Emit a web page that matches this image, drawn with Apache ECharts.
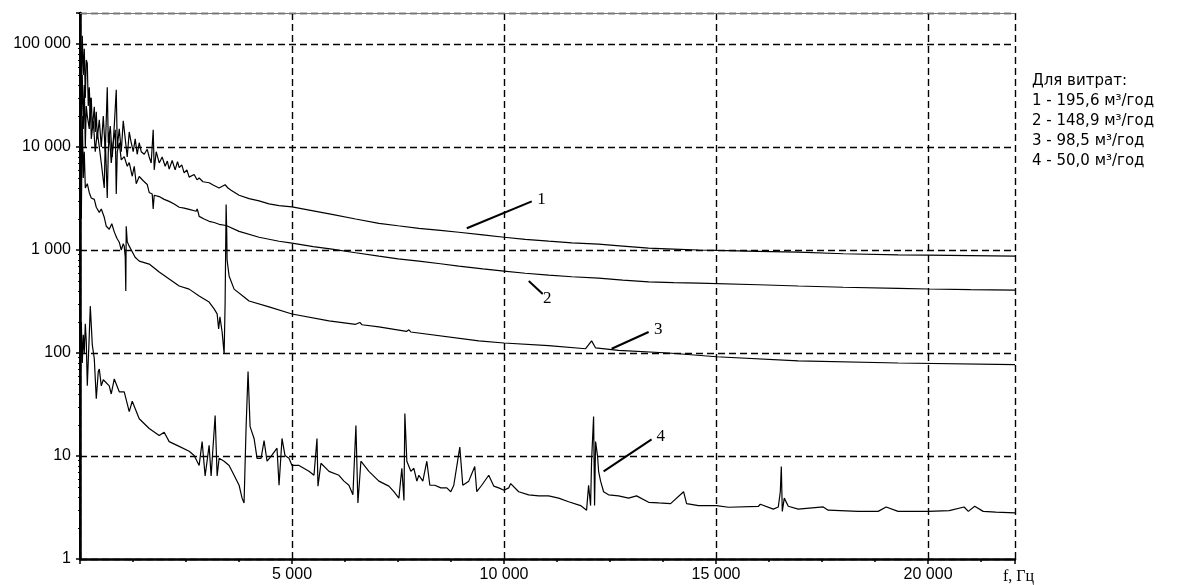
<!DOCTYPE html>
<html>
<head>
<meta charset="utf-8">
<script src="https://cdn.jsdelivr.net/npm/echarts@6/dist/echarts.min.js"></script>
<style>
    html, body { margin: 0; background: #fff; }
    #chart { width: 1178px; height: 585px; }
</style>
</head>
<body>
<div id="chart"></div>
<script>
    // спектри шуму для різних витрат: [частота, Гц, амплітуда]
    const spectrum1 = [
        [0, 60000], [7, 130000], [31, 40000], [54, 120000], [78, 50000], [101, 90000], [125, 30000],
        [148, 70000], [172, 65000], [195, 25000], [219, 38000], [243, 20000], [266, 30000], [290, 15000],
        [337, 24600], [360, 14000], [384, 22000], [407, 12000], [455, 18400], [502, 10000], [549, 20000],
        [596, 9000], [643, 38000], [667, 11000], [714, 16000], [761, 8000], [808, 16000], [855, 36000],
        [879, 10000], [926, 15000], [973, 9000], [1020, 18000], [1067, 12000], [1114, 8000], [1161, 14000],
        [1208, 11000], [1255, 9000], [1302, 12000], [1349, 8500], [1397, 11000], [1444, 9000], [1514, 8500],
        [1585, 9500], [1632, 8000], [1679, 7000], [1726, 14700], [1750, 6000], [1797, 9000], [1868, 7000],
        [1938, 8000], [2009, 6500], [2060, 7300], [2103, 6100], [2174, 7400], [2244, 6000], [2300, 7200],
        [2339, 6300], [2400, 6700], [2456, 5600], [2520, 6000], [2574, 5100], [2692, 5400], [2760, 4800],
        [2810, 5000], [2900, 4600], [3045, 4500], [3150, 4250], [3281, 4000], [3422, 4300], [3490, 4000],
        [3563, 3800], [3752, 3400], [3987, 3150], [4223, 3000], [4458, 2800], [4694, 2700], [5000, 2620],
        [5500, 2400], [5942, 2220], [6500, 2000], [7049, 1816], [7500, 1720], [7991, 1625], [8500, 1550],
        [8933, 1487], [9500, 1400], [10000, 1330], [10500, 1270], [11052, 1217], [11600, 1175],
        [12230, 1138], [12800, 1090], [13410, 1041], [14000, 1020], [14587, 1000], [15011, 990],
        [16000, 970], [16939, 953], [18000, 920], [19293, 895], [20000, 890], [21000, 880], [22050, 871]
    ];
    const spectrum2 = [
        [0, 30000], [7, 90000], [31, 20000], [54, 50000], [78, 15000], [101, 40000], [125, 10000],
        [148, 25000], [172, 20000], [219, 15000], [243, 30000], [266, 12000], [313, 18000], [360, 9000],
        [407, 14000], [455, 10000], [502, 7000], [572, 4000], [596, 12000], [643, 3200], [667, 9000],
        [690, 14000], [737, 7000], [784, 11000], [832, 14700], [855, 3500], [879, 9000], [926, 11000],
        [973, 7500], [1043, 8070], [1114, 6500], [1161, 7060], [1232, 5200], [1279, 6500], [1326, 4400],
        [1397, 5170], [1491, 4700], [1585, 4330], [1632, 3620], [1703, 3500], [1726, 2500], [1750, 3400],
        [1868, 3300], [1985, 3100], [2103, 2965], [2221, 2800], [2339, 2600], [2456, 2550], [2574, 2480],
        [2740, 2380], [2763, 2500], [2790, 2300], [2810, 2120], [2927, 2000], [3045, 1900], [3163, 1850],
        [3281, 1777], [3446, 1730], [3752, 1517], [4223, 1330], [4694, 1217], [5000, 1164], [5500, 1080],
        [5942, 1018], [6500, 940], [7049, 871], [7500, 820], [7991, 780], [8500, 735], [8933, 697],
        [9500, 655], [10000, 624], [10500, 595], [11052, 571], [11600, 550], [12230, 534], [12800, 510],
        [13410, 490], [14000, 482], [14587, 477], [16000, 460], [16939, 447], [18000, 435], [19293, 425],
        [20000, 418], [21000, 412], [22050, 408]
    ];
    const spectrum3 = [
        [0, 15000], [7, 40000], [31, 2000], [54, 20000], [78, 5000], [101, 9000], [125, 4000], [172, 4400],
        [219, 3600], [266, 3200], [337, 3100], [384, 2600], [455, 2320], [502, 2500], [572, 2077], [620, 1700],
        [690, 1590], [750, 1800], [808, 1500], [870, 1300], [926, 1190], [973, 1000], [1020, 1150],
        [1043, 1090], [1067, 850], [1080, 400], [1090, 1700], [1114, 1200], [1161, 1090], [1300, 850],
        [1397, 780], [1632, 730], [1868, 612], [2103, 523], [2339, 447], [2574, 417], [2810, 357],
        [3045, 312], [3163, 268], [3234, 240], [3270, 171], [3300, 224], [3352, 160], [3399, 98],
        [3422, 300], [3446, 2770], [3460, 1500], [3469, 800], [3516, 560], [3634, 417], [3869, 350],
        [3987, 320], [4458, 280], [5000, 239], [5872, 205], [6500, 190], [6600, 198], [6650, 188],
        [7049, 179], [7700, 162], [7755, 168], [7800, 160], [9404, 131], [10000, 125], [11052, 118],
        [11924, 110], [12065, 131], [12160, 112], [12701, 106], [13880, 100], [15011, 92], [16939, 84],
        [19293, 80], [22050, 77]
    ];
    const spectrum4 = [
        [0, 250], [7, 55], [31, 200], [54, 80], [78, 150], [101, 100], [125, 192], [148, 130], [172, 48],
        [219, 150], [243, 285], [290, 120], [337, 88], [384, 36], [431, 66], [455, 70], [502, 48],
        [549, 55], [690, 48], [737, 40], [808, 56], [832, 58], [926, 42], [1043, 42], [1161, 27],
        [1232, 34], [1397, 23], [1632, 18.5], [1868, 15.8], [1985, 17], [2103, 13.8], [2339, 12.4],
        [2574, 11.1], [2692, 10.1], [2810, 8.1], [2880, 13.8], [2951, 6.4], [3045, 12.7], [3092, 6.4],
        [3187, 24.7], [3234, 6.4], [3281, 9.5], [3399, 8.9], [3516, 8.1], [3634, 6.5], [3752, 5.2],
        [3822, 3.9], [3869, 3.5], [3916, 18.5], [3963, 66], [4011, 19.3], [4105, 14.8], [4176, 9.5],
        [4270, 9.5], [4341, 14.1], [4411, 8.9], [4505, 9.9], [4646, 11.9], [4694, 5.2], [4764, 14.8],
        [4835, 10.1], [4929, 9.5], [5000, 8.1], [5165, 8.1], [5400, 7.1], [5518, 6.5], [5589, 14.8],
        [5612, 5.1], [5683, 8.5], [5872, 7.1], [6107, 6.5], [6225, 5.7], [6342, 5.2], [6436, 4.2],
        [6507, 19.8], [6554, 3.5], [6625, 8.9], [6813, 7.1], [7049, 5.7], [7284, 5.1], [7402, 4.5],
        [7520, 3.9], [7590, 7.6], [7640, 3.7], [7661, 25.8], [7708, 8.9], [7802, 7.1], [7873, 7.6],
        [7944, 5.7], [7991, 6.5], [8085, 5.7], [8179, 8.9], [8250, 5.2], [8368, 5.2], [8509, 4.9],
        [8650, 4.9], [8745, 4.5], [8815, 5.2], [8957, 12.2], [9027, 5.2], [9168, 5.7], [9309, 7.9],
        [9357, 4.5], [9474, 5.2], [9639, 6.5], [9757, 5.1], [9874, 4.9], [10000, 4.65], [10110, 4.9],
        [10157, 5.4], [10346, 4.5], [10581, 4.2], [10817, 4.1], [11052, 4.1], [11287, 3.9], [11523, 3.6],
        [11806, 3.3], [11947, 2.98], [11994, 5.2], [12041, 3.3], [12065, 9.1], [12112, 24.2], [12135, 3.3],
        [12159, 13.8], [12206, 9.9], [12230, 7.1], [12277, 5.7], [12348, 4.5], [12465, 4.2], [12701, 4.1],
        [12937, 3.9], [13125, 4.1], [13410, 3.55], [13645, 3.5], [13928, 3.45], [14234, 4.5], [14305, 3.45],
        [14587, 3.3], [15011, 3.3], [15293, 3.18], [16000, 3.25], [16044, 3.4], [16350, 3.05], [16468, 3.2],
        [16515, 4.5], [16539, 7.9], [16562, 2.9], [16609, 3.9], [16703, 3.25], [16939, 3.05], [17528, 3.2],
        [17645, 2.98], [18351, 2.9], [18822, 2.9], [19011, 3.2], [19293, 2.9], [20000, 2.9], [20500, 2.95],
        [20850, 3.2], [20950, 2.9], [21100, 3.25], [21300, 2.9], [21600, 2.85], [22050, 2.8]
    ];
    const spectra = [spectrum1, spectrum2, spectrum3, spectrum4];

    // виноски з номерами кривих: [від], [до], номер
    const callouts = [
        {from: [9122, 1625], to: [10654, 2965], text: '1'},
        {from: [10583, 499], to: [10913, 374], text: '2'},
        {from: [12538, 110], to: [13410, 160], text: '3'},
        {from: [12349, 7.1], to: [13480, 14.5], text: '4'}
    ];

    const xLabelValues = [5000, 10000, 15000, 20000];
    const yLabelValues = [1, 10, 100, 1000, 10000, 100000];
    const legendLines = [
        'Для витрат:',
        '1 - 195,6 м³/год',
        '2 - 148,9 м³/год',
        '3 - 98,5 м³/год',
        '4 - 50,0 м³/год'
    ];

    let fmtNum = (v) => String(v).replace(/\B(?=(\d{3})+(?!\d))/g, ' ');

    // log-мінорні поділки 2..9 на кожну декаду
    let minorY = [];
    for (let d = 1; d <= 100000; d *= 10) {
        for (let k = 2; k <= 9; k++) {
            if (d * k <= 200000) minorY.push(d * k);
        }
    }

    let myChart = echarts.init(document.getElementById('chart'));
    let gridLine = {color: '#000', width: 1.4, type: [7, 4]};

    let option = {
        animation: false,
        backgroundColor: '#fff',
        grid: {left: 80, right: 163, top: 13, bottom: 24},
        xAxis: [{
            type: 'value', min: 0, max: 22050, interval: 5000,
            axisLine: {lineStyle: {color: '#000', width: 2.5}},
            axisTick: {length: 5, lineStyle: {color: '#000', width: 1.5}},
            axisLabel: {
                color: '#000', fontSize: 16, fontFamily: 'Liberation Sans', margin: 8,
                formatter: (v) => xLabelValues.indexOf(v) >= 0 ? fmtNum(v) : ''
            },
            splitLine: {show: true, lineStyle: gridLine},
            name: 'f, Гц', nameLocation: 'end', nameGap: -12,
            nameTextStyle: {
                color: '#000', fontSize: 16, fontFamily: 'Liberation Serif',
                align: 'left', verticalAlign: 'top', padding: [10, 0, 0, 0]
            }
        }, {
            // дрібні поділки через 1250 Гц
            type: 'value', position: 'bottom', min: 0, max: 22050, interval: 1250,
            axisLine: {show: false},
            axisTick: {length: 3, lineStyle: {color: '#000', width: 1.5}},
            axisLabel: {show: false},
            splitLine: {show: false}
        }, {
            type: 'value', position: 'top', min: 0, max: 22050,
            axisLine: {show: true, lineStyle: {color: '#777', width: 1}},
            axisTick: {show: false}, axisLabel: {show: false}, splitLine: {show: false}
        }],
        yAxis: [{
            type: 'log', logBase: 10, min: 1, max: 200000,
            axisLine: {show: true, lineStyle: {color: '#000', width: 2.5}},
            axisTick: {show: true, length: 4, lineStyle: {color: '#000', width: 1.5}},
            axisLabel: {
                color: '#000', fontSize: 16, fontFamily: 'Liberation Sans', margin: 9,
                formatter: (v) => {
                    let r = Math.round(v);
                    return yLabelValues.indexOf(r) >= 0 && Math.abs(v - r) < 1e-6 * r ? fmtNum(r) : '';
                }
            },
            splitLine: {show: true, lineStyle: gridLine}
        }, {
            type: 'log', logBase: 10, min: 1, max: 200000, position: 'right',
            axisLine: {show: true, lineStyle: {color: '#000', width: 2}},
            axisTick: {show: false}, axisLabel: {show: false}, splitLine: {show: false}
        }, {
            type: 'log', logBase: 10, min: 1, max: 200000, position: 'left',
            axisLine: {show: false},
            axisTick: {show: true, length: 2, customValues: minorY, lineStyle: {color: '#000', width: 1.2}},
            axisLabel: {show: false}, splitLine: {show: false}
        }],
        graphic: legendLines.map((t, i) => ({
            type: 'text', left: 1032, top: 74 + i * 20,
            style: {text: t, fill: '#000', font: '15px "DejaVu Sans"'}
        })),
        series: spectra.map((d, i) => ({
            name: String(i + 1),
            type: 'line',
            data: d,
            showSymbol: false,
            symbol: 'none',
            lineStyle: {color: '#000', width: 1.2},
            z: 3,
            markLine: {
                silent: true,
                symbol: ['none', 'none'],
                lineStyle: {color: '#000', width: 2, type: 'solid'},
                label: {
                    show: true, position: 'end', distance: 6,
                    formatter: callouts[i].text,
                    color: '#000', fontSize: 17, fontFamily: 'Liberation Serif'
                },
                data: [[{coord: callouts[i].from}, {coord: callouts[i].to}]]
            }
        }))
    };
    myChart.setOption(option);
</script>
</body>
</html>
